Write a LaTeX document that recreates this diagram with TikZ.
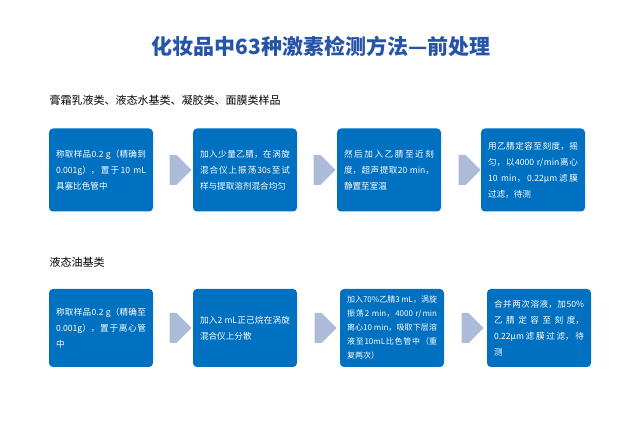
\documentclass[tikz,border=0pt]{standalone}
\usepackage{fontspec}
\setmainfont{Liberation Serif}
\newfontfamily\cjk{Noto Sans CJK SC}
\XeTeXlinebreaklocale "zh"
\XeTeXlinebreakskip=0pt plus 1pt
\usetikzlibrary{shapes.arrows, positioning}
\definecolor{titleblue}{RGB}{38,84,166}
\definecolor{boxblue}{RGB}{0,112,192}
\definecolor{arrowgray}{RGB}{172,187,216}
\tikzset{
  stepbox/.style={fill=boxblue, rounded corners=4pt, text=white, minimum height=80pt,
    text width=90pt, inner xsep=7pt, align=justify, font=\cjk\fontsize{8.6}{16}\selectfont},
  flowarrow/.style={single arrow, fill=arrowgray, minimum width=30pt, minimum height=22pt,
    single arrow head extend=0pt, inner sep=0pt, single arrow tip angle=90}
}
\begin{document}
\begin{tikzpicture}[x=1pt,y=-1pt]
  \useasboundingbox (0,0) rectangle (643,435);
  % title
  \node (title) at (321,46) {\cjk\bfseries\fontsize{21}{24}\selectfont\color{titleblue}化妆品中63种激素检测方法—前处理};

  % first group
  \node (head_a) [anchor=west] at (46,100) {\cjk\fontsize{11}{13}\selectfont 膏霜乳液类、液态水基类、凝胶类、面膜类样品};
  \node (a1) [stepbox, minimum height=83pt] at (101,170) {称取样品0.2 g（精确到0.001g），置于10 mL具塞比色管中};
  \node (a2) [stepbox, minimum height=83pt] at (245,170) {加入少量乙腈，在涡旋混合仪上振荡30s至试样与提取溶剂混合均匀};
  \node (a3) [stepbox, minimum height=83pt] at (389,170) {然后加入乙腈至近刻度，超声提取20 min，静置至室温};
  \node (a4) [stepbox, minimum height=83pt] at (533,170) {用乙腈定容至刻度，摇匀，以4000 r/min离心 10 min，0.22μm滤膜过滤，待测};
  \node (arr_a1) [flowarrow] at (173,170) {};
  \node (arr_a2) [flowarrow] at (317,170) {};
  \node (arr_a3) [flowarrow] at (462,170) {};

  % second group
  \node (head_b) [anchor=west] at (46,262) {\cjk\fontsize{11}{13}\selectfont 液态油基类};
  \node (b1) [stepbox, minimum height=78pt] at (101,328) {称取样品0.2 g（精确至0.001g），置于离心管中};
  \node (b2) [stepbox, minimum height=78pt] at (245,328) {加入2 mL正己烷在涡旋混合仪上分散};
  \node (b3) [stepbox, minimum height=78pt, font=\cjk\fontsize{8}{14}\selectfont] at (392,328) {加入70\%乙腈3 mL，涡旋振荡2 min，4000 r/min离心10 min，吸取下层溶液至10mL比色管中（重复两次）};
  \node (b4) [stepbox, minimum height=78pt] at (539,328) {合并两次溶液，加50\%乙腈定容至刻度，0.22μm滤膜过滤，待测};
  \node (arr_b1) [flowarrow] at (173,328) {};
  \node (arr_b2) [flowarrow] at (318,328) {};
  \node (arr_b3) [flowarrow] at (465,328) {};
\end{tikzpicture}
\end{document}
